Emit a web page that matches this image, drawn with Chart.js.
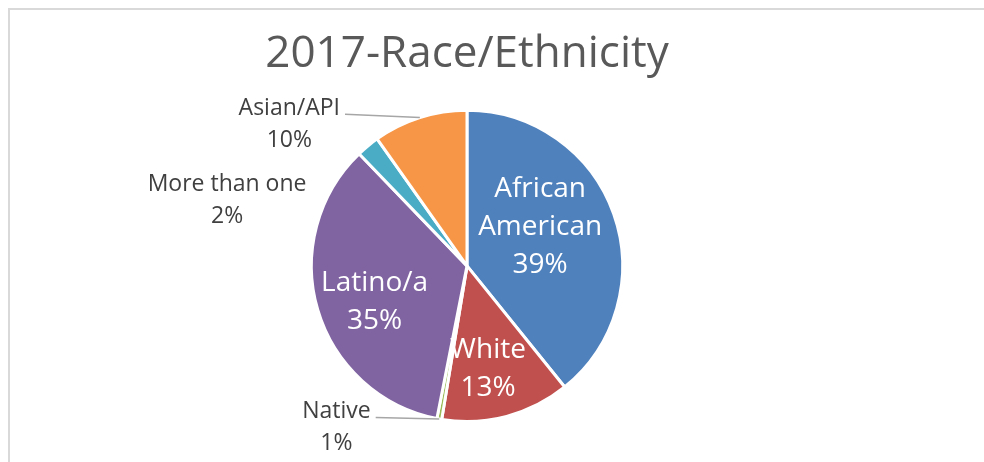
<!DOCTYPE html>
<html>
<head>
<meta charset="utf-8">
<script src="https://cdn.jsdelivr.net/npm/chart.js@4.4.1/dist/chart.umd.min.js"></script>
<style>
  html, body { margin: 0; padding: 0; background: #fff; }
  #wrap { width: 984px; height: 462px; position: relative; }
</style>
</head>
<body>
<div id="wrap"><canvas id="raceChart"></canvas></div>
<script>
// Data (share of total, %)
const categories = ['African American', 'White', 'Native', 'Latino/a', 'More than one', 'Asian/API'];
const shares = [39.2, 13.4, 0.5, 34.7, 2.4, 9.8];
const sliceColors = ['#4F81BD', '#C0504D', '#9BBB59', '#8064A2', '#4BACC6', '#F79646'];

// label placement (offset from pie centre, in radius units)
const labelStyle = [
    { lines: ['African', 'American'], inside: true, dx: 0.47, dy: -0.25 },
    { lines: ['White'], inside: true, dx: 0.135, dy: 0.665 },
    { lines: ['Native'], inside: false, dx: -0.839, dy: 1.039, leader: true },
    { lines: ['Latino/a'], inside: true, dx: -0.594, dy: 0.232 },
    { lines: ['More than one'], inside: false, dx: -1.542, dy: -0.419 },
    { lines: ['Asian/API'], inside: false, dx: -1.142, dy: -0.91, leader: true }
];

const FONT = '"Open Sans", "DejaVu Sans", sans-serif';

// light grey chart frame
const framePlugin = {
    id: 'frame',
    beforeDraw(chart) {
        const ctx = chart.ctx;
        ctx.save();
        ctx.strokeStyle = '#D9D9D9';
        ctx.lineWidth = 2;
        ctx.strokeRect(9, 9, 2000, 2000);
        ctx.restore();
    }
};

// data labels like the Excel original
const labelPlugin = {
    id: 'sliceLabels',
    afterDatasetsDraw(chart) {
        const ctx = chart.ctx;
        const meta = chart.getDatasetMeta(0);
        ctx.save();
        ctx.textAlign = 'center';
        ctx.textBaseline = 'middle';
        meta.data.forEach(function(arc, i) {
            const st = labelStyle[i];
            const r = arc.outerRadius;
            const cx = arc.x + st.dx * r;
            const cy = arc.y + st.dy * r;
            const lines = st.lines.concat([Math.round(shares[i]) + '%']);
            const lh = st.inside ? 38 : 32;
            ctx.font = (st.inside ? '28px ' : '23px ') + FONT;
            ctx.fillStyle = st.inside ? '#FFFFFF' : '#404040';
            const top = cy - (lines.length - 1) * lh / 2;
            lines.forEach(function(txt, k) {
                ctx.fillText(txt, cx, top + k * lh);
            });
            if (st.leader) {
                const w = ctx.measureText(lines[0]).width;
                const mid = (arc.startAngle + arc.endAngle) / 2;
                const ex = arc.x + Math.cos(mid) * r;
                const ey = arc.y + Math.sin(mid) * r;
                ctx.beginPath();
                ctx.strokeStyle = '#A6A6A6';
                ctx.lineWidth = 1.5;
                ctx.moveTo(cx + w / 2 + 5, top + 6);
                ctx.lineTo(ex, ey);
                ctx.stroke();
            }
        });
        ctx.restore();
    }
};

new Chart(document.getElementById('raceChart'), {
    type: 'pie',
    data: {
        labels: categories,
        datasets: [{
            data: shares,
            backgroundColor: sliceColors,
            borderColor: '#FFFFFF',
            borderWidth: 3
        }]
    },
    options: {
        responsive: true,
        maintainAspectRatio: false,
        animation: false,
        layout: {
            padding: { top: 0, bottom: 39, left: 0, right: 50 }
        },
        plugins: {
            legend: { display: false },
            tooltip: { enabled: false },
            title: {
                display: true,
                text: '2017-Race/Ethnicity',
                color: '#595959',
                font: { family: FONT, size: 44, weight: 'normal', lineHeight: 1.2 },
                padding: { top: 28, bottom: 28 }
            }
        }
    },
    plugins: [framePlugin, labelPlugin]
});
</script>
</body>
</html>
